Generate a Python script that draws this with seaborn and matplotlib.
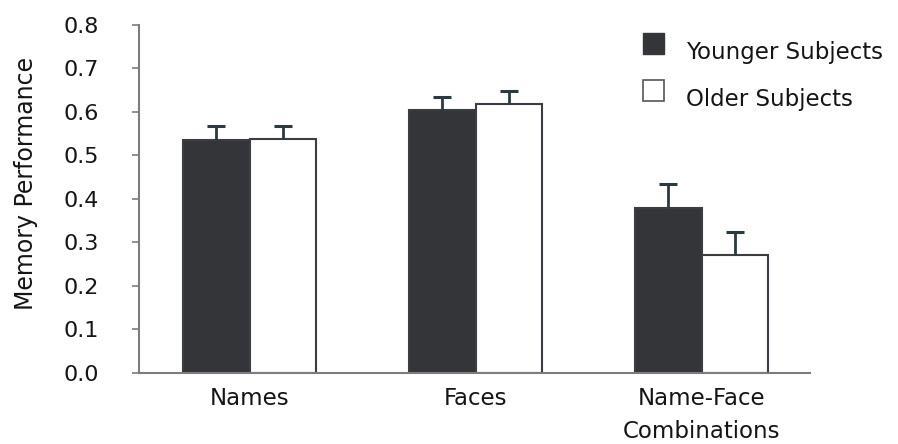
import matplotlib
matplotlib.use("Agg")
import matplotlib.pyplot as plt
from matplotlib.patches import Patch, Rectangle
from matplotlib.legend_handler import HandlerPatch
import numpy as np
import pandas as pd
import seaborn as sns

# Memory performance by stimulus type and age group
categories = ["Names", "Faces", "Name-Face\nCombinations"]
groups = ["Younger Subjects", "Older Subjects"]
younger_mean = [0.536, 0.605, 0.380]
older_mean = [0.538, 0.619, 0.272]
younger_err = [0.032, 0.029, 0.054]
older_err = [0.030, 0.030, 0.053]

df = pd.DataFrame({
    "category": categories * 2,
    "group": [groups[0]] * 3 + [groups[1]] * 3,
    "score": younger_mean + older_mean,
})

sns.set_theme(style="white")
plt.rcParams["font.family"] = ["DejaVu Sans"]

dark = "#333539"
edge = "#3a3e42"
err_color = "#2a3a3f"
axis_grey = "#7d7d7d"
text_color = "#151515"

fig = plt.figure(figsize=(8.98, 4.44), dpi=100)
ax = fig.add_axes([0.1548, 0.16, 0.902 - 0.1548, 0.9437 - 0.16])

sns.barplot(data=df, x="category", y="score", hue="group",
            palette=[dark, "white"], width=0.59, errorbar=None,
            edgecolor=edge, linewidth=1.5, legend=False, ax=ax)

# one-sided (upward) error bars on top of each bar
for container, means, errs in zip(ax.containers, [younger_mean, older_mean],
                                  [younger_err, older_err]):
    xs = [p.get_x() + p.get_width() / 2 for p in container.patches]
    _, caps, _ = ax.errorbar(xs, means, yerr=[np.zeros(len(errs)), errs], fmt="none",
                             ecolor=err_color, elinewidth=2, capsize=6.5,
                             capthick=2.2, zorder=1)
    caps[0].set_visible(False)

ax.set_ylim(0, 0.8)
ax.set_xlim(-0.49, 2.48)
ax.set_yticks(np.arange(0, 0.81, 0.1))
ax.set_yticklabels([f"{v:.1f}" for v in np.arange(0, 0.81, 0.1)])
ax.set_xlabel("")
ax.set_ylabel("Memory Performance", fontsize=17, color=text_color)
ax.yaxis.set_label_coords(-0.1505, 0.5445)

for side in ["top", "right"]:
    ax.spines[side].set_visible(False)
for side in ["left", "bottom"]:
    ax.spines[side].set_color(axis_grey)
    ax.spines[side].set_linewidth(1.5)

ax.tick_params(axis="y", which="major", left=True, length=5, width=1.2,
               color=axis_grey, labelsize=16, pad=24, labelcolor=text_color)
ax.tick_params(axis="x", length=0, labelsize=16.5, pad=10, labelcolor=text_color)
for lbl in ax.get_xticklabels():
    lbl.set_linespacing(1.55)


def raised_square(legend, orig_handle, xdescent, ydescent, width, height, fontsize):
    # legend swatch lifted above the text baseline
    return Rectangle((-xdescent, -ydescent + 0.33 * fontsize), width, height)


handles = [Patch(facecolor=dark, edgecolor=dark, label=groups[0]),
           Patch(facecolor="white", edgecolor="#555555", linewidth=1.2, label=groups[1])]
fig.legend(handles=handles, loc="upper left", bbox_to_anchor=(643.3 / 898, 1 - 41 / 444),
           frameon=False, fontsize=16.5, handlelength=0.92, handleheight=1.0,
           handletextpad=0.93, labelspacing=1.03, borderpad=0, borderaxespad=0,
           labelcolor=text_color,
           handler_map={Patch: HandlerPatch(patch_func=raised_square)})

fig.savefig("out.png", dpi=100)
